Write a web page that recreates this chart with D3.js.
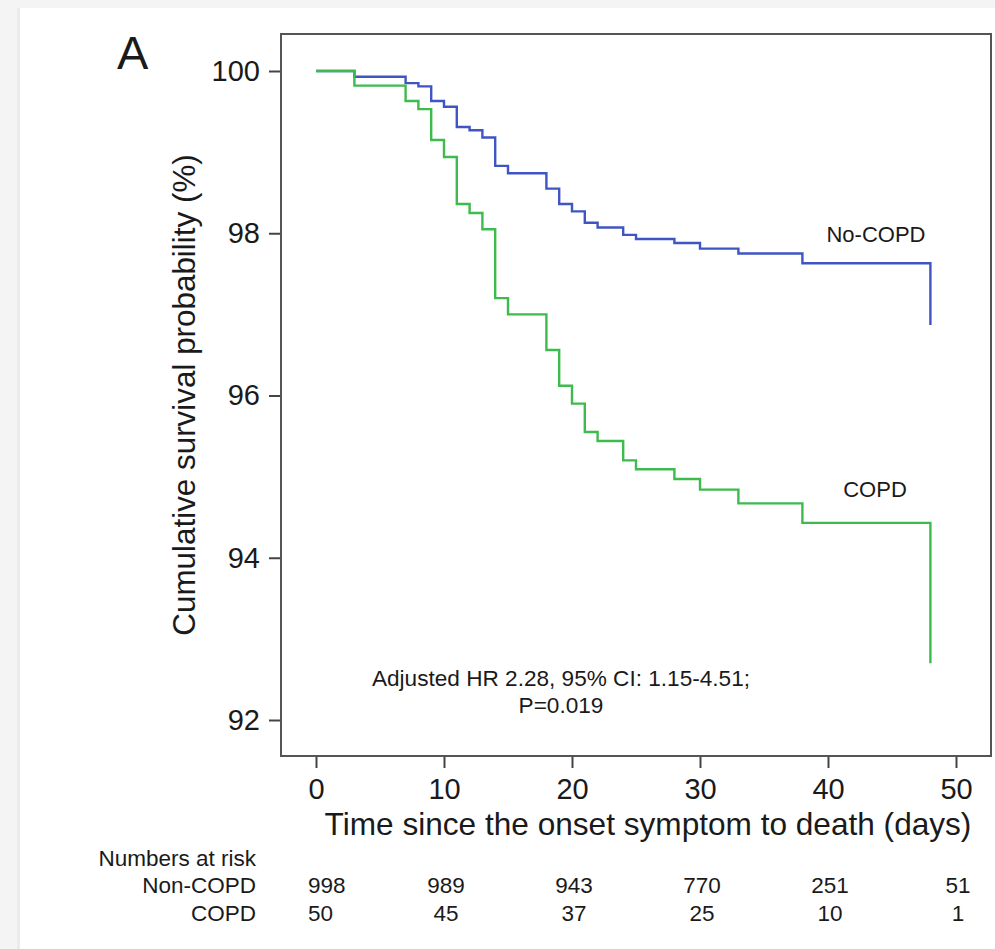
<!DOCTYPE html>
<html>
<head>
<meta charset="utf-8">
<script src="https://d3js.org/d3.v7.min.js"></script>
<style>
  body { margin: 0; background: #f2f2f2; }
  text { font-family: "Liberation Sans", Arial, sans-serif; fill: #1a1a1a; }
</style>
</head>
<body>
<div class="vis"></div>
<script>
  // survival curves (days, %)
  var noCopdTimes = [0, 3, 7, 8, 9, 10, 11, 12, 13, 14, 15, 18, 19, 20, 21, 22, 24, 25, 28, 30, 33, 38, 48];
  var noCopdSurv = [100, 99.93, 99.85, 99.81, 99.63, 99.56, 99.31, 99.27, 99.18, 98.83, 98.74, 98.55, 98.36, 98.27, 98.13, 98.07, 97.98, 97.93, 97.88, 97.81, 97.75, 97.63, 96.87];
  var copdTimes = [0, 3, 7, 8, 9, 10, 11, 12, 13, 14, 15, 18, 19, 20, 21, 22, 24, 25, 28, 30, 33, 38, 48];
  var copdSurv = [100, 99.82, 99.63, 99.53, 99.15, 98.94, 98.36, 98.25, 98.05, 97.20, 97.00, 96.56, 96.12, 95.90, 95.55, 95.44, 95.20, 95.09, 94.97, 94.84, 94.67, 94.43, 92.70];

  // axes
  var xTicks = [0, 10, 20, 30, 40, 50];
  var yTicks = [92, 94, 96, 98, 100];

  // numbers at risk
  var riskTimes = [0, 10, 20, 30, 40, 50];
  var riskGroups = ["Non-COPD", "COPD"];
  var riskNonCopd = [998, 989, 943, 770, 251, 51];
  var riskCopd = [50, 45, 37, 25, 10, 1];

  var width = 995, height = 949;
  var svg = d3.select('.vis').append('svg')
    .attr('width', width)
    .attr('height', height);

  // page background + white panel
  svg.append('rect').attr('width', width).attr('height', height).attr('fill', '#f4f4f4');
  svg.append('rect').attr('x', 17).attr('y', 8).attr('width', 3).attr('height', height).attr('fill', '#ebebeb');
  svg.append('rect').attr('x', 20).attr('y', 8).attr('width', width - 20).attr('height', height - 8).attr('fill', 'white');

  var x = d3.scaleLinear().domain([0, 50]).range([316, 956]);
  var y = d3.scaleLinear().domain([92, 100]).range([720, 71]);

  var box = { left: 281, right: 991, top: 34, bottom: 756 };

  // x axis
  var xAxis = svg.append('g')
    .attr('transform', 'translate(0,' + box.bottom + ')')
    .call(d3.axisBottom(x).tickValues(xTicks).tickSize(12).tickPadding(10));
  xAxis.select('.domain').remove();
  xAxis.selectAll('line').attr('stroke', '#444').attr('stroke-width', 2);
  xAxis.selectAll('text').attr('font-size', 29).attr('font-family', '"Liberation Sans", Arial, sans-serif').attr('fill', '#1a1a1a');

  // y axis
  var yAxis = svg.append('g')
    .attr('transform', 'translate(' + box.left + ',0)')
    .call(d3.axisLeft(y).tickValues(yTicks).tickSize(12).tickPadding(9));
  yAxis.select('.domain').remove();
  yAxis.selectAll('line').attr('stroke', '#444').attr('stroke-width', 2);
  yAxis.selectAll('text').attr('font-size', 29).attr('font-family', '"Liberation Sans", Arial, sans-serif').attr('fill', '#1a1a1a');

  // frame
  svg.append('rect')
    .attr('x', box.left)
    .attr('y', box.top)
    .attr('width', box.right - box.left)
    .attr('height', box.bottom - box.top)
    .attr('fill', 'none')
    .attr('stroke', '#555')
    .attr('stroke-width', 2);

  var line = d3.line()
    .x(function (d) { return x(d[0]); })
    .y(function (d) { return y(d[1]); })
    .curve(d3.curveStepAfter);

  svg.append('path')
    .datum(d3.zip(noCopdTimes, noCopdSurv))
    .attr('d', line)
    .attr('fill', 'none')
    .attr('stroke', '#3f55c4')
    .attr('stroke-width', 2.4);

  svg.append('path')
    .datum(d3.zip(copdTimes, copdSurv))
    .attr('d', line)
    .attr('fill', 'none')
    .attr('stroke', '#3dbb4c')
    .attr('stroke-width', 2.4);

  // curve labels
  svg.append('text').attr('x', 876).attr('y', 242).attr('text-anchor', 'middle').attr('font-size', 22).text('No-COPD');
  svg.append('text').attr('x', 875).attr('y', 497).attr('text-anchor', 'middle').attr('font-size', 22).text('COPD');

  // HR annotation
  svg.append('text').attr('x', 561).attr('y', 686).attr('text-anchor', 'middle').attr('font-size', 22.6)
    .text('Adjusted HR 2.28, 95% CI: 1.15-4.51;');
  svg.append('text').attr('x', 561).attr('y', 713).attr('text-anchor', 'middle').attr('font-size', 22.6)
    .text('P=0.019');

  // axis titles
  svg.append('text').attr('x', 648).attr('y', 835).attr('text-anchor', 'middle').attr('font-size', 31.6)
    .text('Time since the onset symptom to death (days)');
  svg.append('text')
    .attr('transform', 'translate(195,395) rotate(-90)')
    .attr('text-anchor', 'middle').attr('font-size', 31.4)
    .text('Cumulative survival probability (%)');

  // panel letter
  svg.append('text').attr('x', 117).attr('y', 69).attr('font-size', 47).text('A');

  // numbers at risk table
  svg.append('text').attr('x', 256).attr('y', 866).attr('text-anchor', 'end').attr('font-size', 22.5).text('Numbers at risk');
  var rows = [riskNonCopd, riskCopd];
  rows.forEach(function (vals, r) {
    var yy = 893 + r * 28;
    svg.append('text').attr('x', 256).attr('y', yy).attr('text-anchor', 'end').attr('font-size', 22.5).text(riskGroups[r]);
    svg.selectAll('.risk' + r)
      .data(vals)
      .enter()
      .append('text')
      .attr('x', function (d, i) { return i === 0 ? x(riskTimes[i]) - 8 : x(riskTimes[i]) + 2; })
      .attr('y', yy)
      .attr('text-anchor', function (d, i) { return i === 0 ? 'start' : 'middle'; })
      .attr('font-size', 22.5)
      .text(function (d) { return d; });
  });
</script>
</body>
</html>
